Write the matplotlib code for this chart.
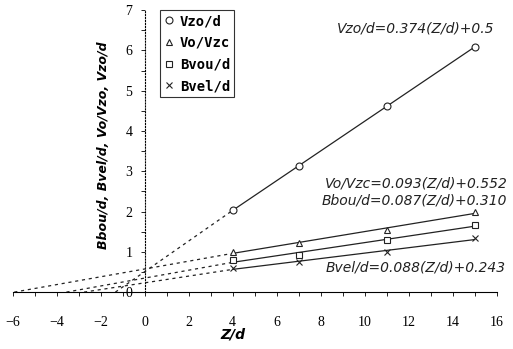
import matplotlib
matplotlib.use("Agg")
import matplotlib.pyplot as plt
import numpy as np
from matplotlib.ticker import MultipleLocator

# measured points
z_pts = [4, 7, 11, 15]
vzo_d = [2.03, 3.13, 4.62, 6.08]
vo_vzc = [0.99, 1.22, 1.54, 1.99]
bbou_d = [0.79, 0.92, 1.30, 1.66]
bvel_d = [0.60, 0.74, 0.99, 1.34]

# linear fits written on the chart: (slope, intercept)
fit_vzo = (0.374, 0.5)
fit_vo = (0.093, 0.552)
fit_bbou = (0.087, 0.310)
fit_bvel = (0.088, 0.243)

fit_labels = ['Vzo/d=0.374(Z/d)+0.5', 'Vo/Vzc=0.093(Z/d)+0.552',
              'Bbou/d=0.087(Z/d)+0.310', 'Bvel/d=0.088(Z/d)+0.243']
legend_labels = ['Vzo/d', 'Vo/Vzc', 'Bvou/d', 'Bvel/d']

fig = plt.figure(figsize=(5.13, 3.49), dpi=100)
ax = fig.add_axes([0.025, 0.163, 0.943, 0.808])

col = '#222222'
series = [(vzo_d, fit_vzo, 'o'), (vo_vzc, fit_vo, '^'),
          (bbou_d, fit_bbou, 's'), (bvel_d, fit_bvel, 'x')]

for (vals, (a, b), m), lab in zip(series, legend_labels):
    ax.plot(z_pts, vals, linestyle='none', marker=m, markersize=5,
            markerfacecolor='white' if m != 'x' else col,
            markeredgecolor=col, markeredgewidth=0.8, label=lab, zorder=4)
    # solid trend through the measured range
    p = np.poly1d(np.polyfit(z_pts, vals, 1))
    xs = np.array([z_pts[0], z_pts[-1]])
    ax.plot(xs, p(xs), color=col, lw=0.9, zorder=3)
    # dashed extrapolation of the fitted equation down to zero
    x0 = -b / a
    xd = np.array([x0, z_pts[0]])
    ax.plot(xd, [0, p(z_pts[0])], color=col, lw=0.9, ls=(0, (2.5, 3)), zorder=3)

ax.set_xlim(-6, 16)
ax.set_ylim(0, 7)
ax.spines['top'].set_visible(False)
ax.spines['right'].set_visible(False)
ax.spines['left'].set_position(('data', 0))
ax.spines['left'].set_linestyle(':')
ax.spines['left'].set_linewidth(0.8)
ax.spines['bottom'].set_linewidth(0.8)
ax.xaxis.set_major_locator(MultipleLocator(2))
ax.xaxis.set_minor_locator(MultipleLocator(1))
ax.yaxis.set_major_locator(MultipleLocator(1))
ax.yaxis.set_minor_locator(MultipleLocator(0.5))
ax.tick_params(axis='x', which='both', direction='out', length=3, width=0.6, pad=14,
               labelsize=10)
ax.tick_params(axis='y', which='both', direction='out', length=3, width=0.6, pad=6,
               labelsize=10)
for t in ax.get_xticklabels() + ax.get_yticklabels():
    t.set_family('Liberation Serif')

ax.set_xlabel('Z/d', fontsize=10, fontstyle='italic', fontweight='bold')
ax.xaxis.set_label_coords(0.455, -0.125)
ax.set_ylabel('Bbou/d, Bvel/d, Vo/Vzo, Vzo/d', fontsize=9, fontstyle='italic',
              fontweight='bold')
ax.yaxis.set_label_coords(0.2, 0.52)

tkw = dict(fontsize=10, fontstyle='italic', color=col, ha='right', va='center')
ax.text(15.9, 6.55, fit_labels[0], **tkw)
ax.text(16.5, 2.7, fit_labels[1], **tkw)
ax.text(16.5, 2.28, fit_labels[2], **tkw)
ax.text(16.4, 0.6, fit_labels[3], **tkw)

leg = ax.legend(loc='upper left', bbox_to_anchor=(0.305, 1.0), frameon=True,
                fancybox=False, edgecolor='black', handlelength=0.6,
                handletextpad=0.5, borderpad=0.3, labelspacing=0.55,
                borderaxespad=0.0, prop={'family': 'DejaVu Sans Mono', 'weight': 'bold', 'size': 10})
leg.get_frame().set_linewidth(0.8)

fig.savefig('out.png', dpi=100)
